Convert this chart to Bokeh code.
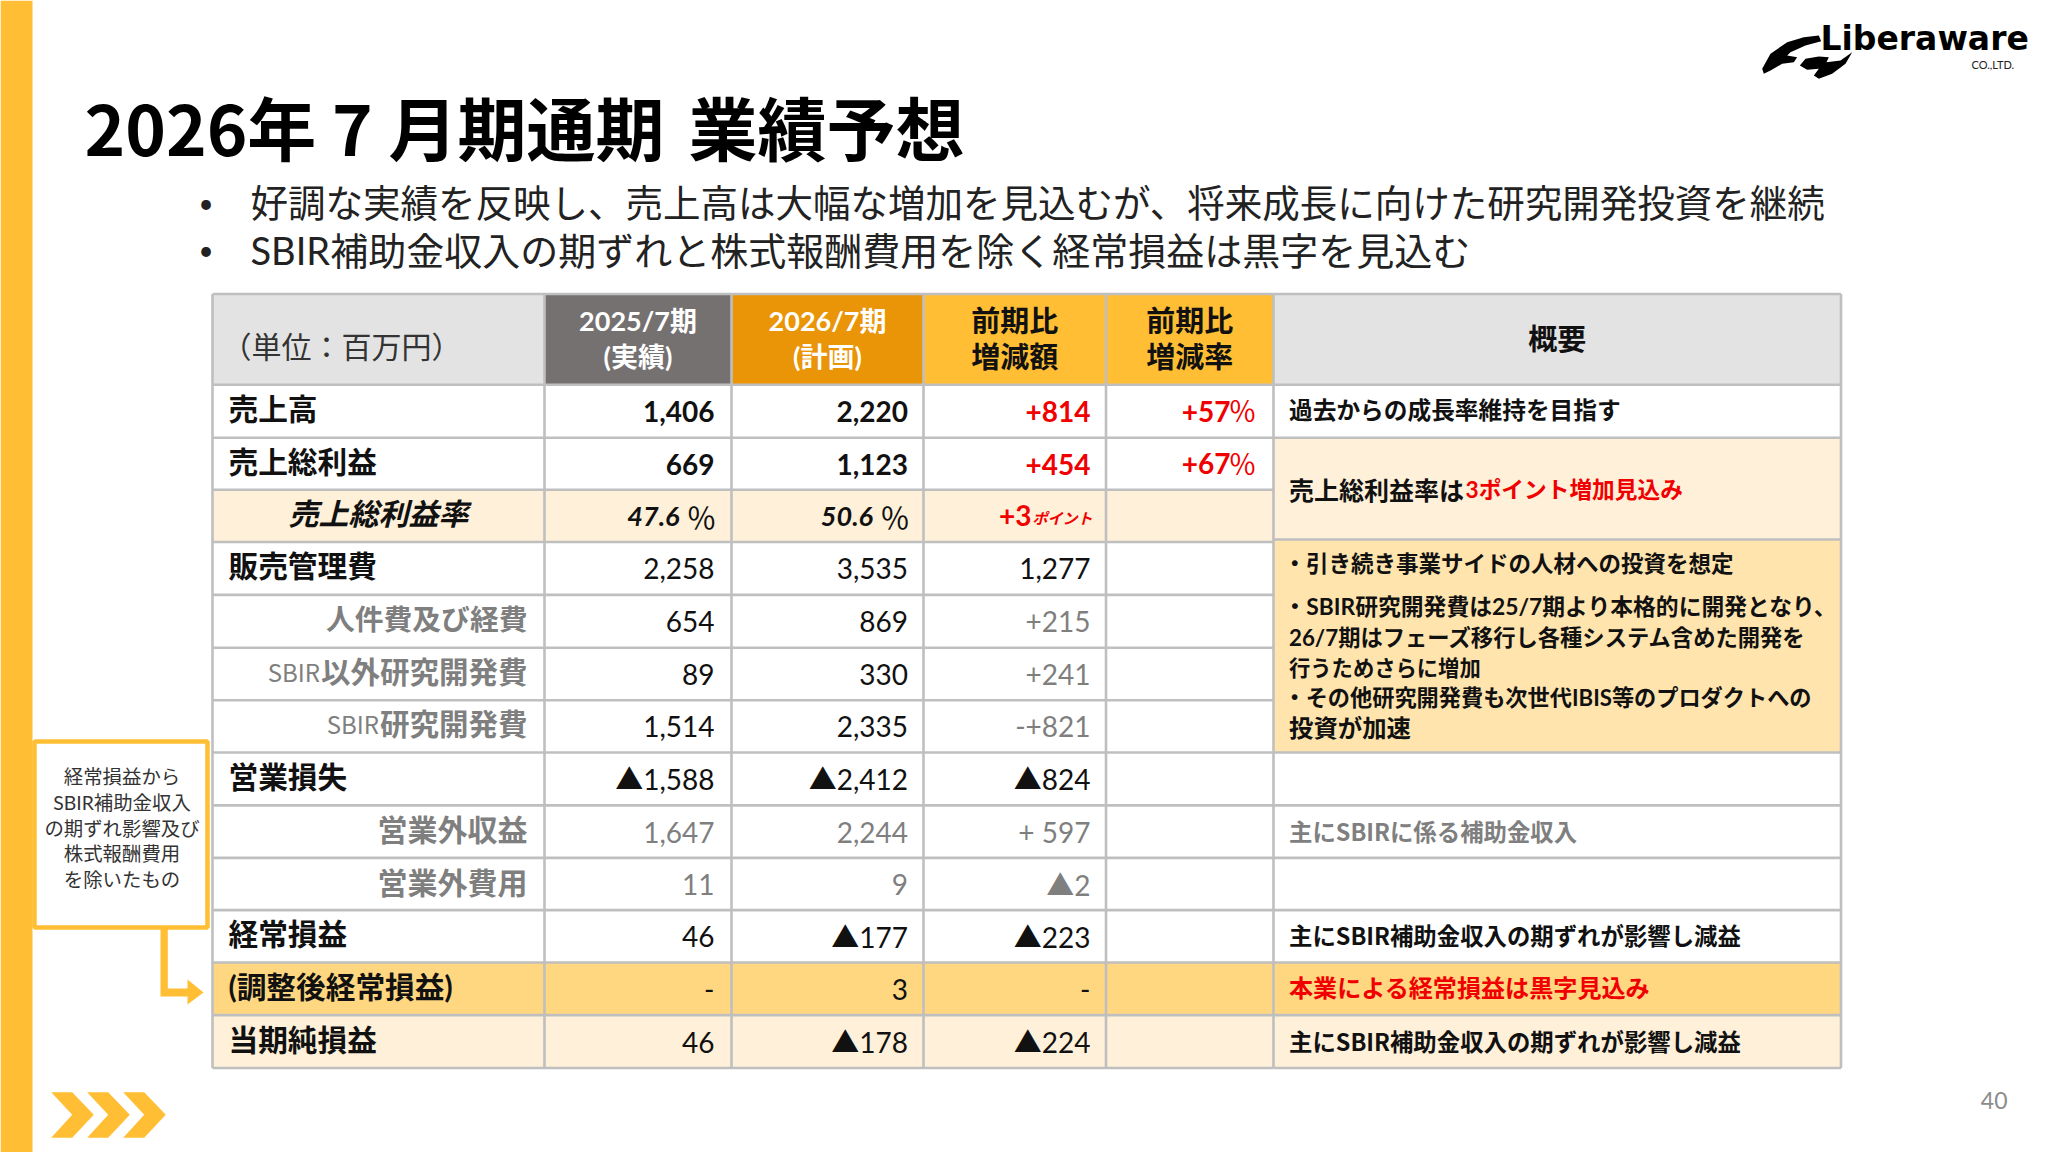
from bokeh.plotting import figure
from bokeh.models import Range1d
from bokeh.core.properties import value
from bokeh.embed import file_html
from bokeh.resources import INLINE

# ---------- DATA ----------
title_parts = ["2026年 7 月期通期", "業績予想"]
bullets = ["好調な実績を反映し、売上高は大幅な増加を見込むが、将来成長に向けた研究開発投資を継続",
           "SBIR補助金収入の期ずれと株式報酬費用を除く経常損益は黒字を見込む"]
unit_label = "（単位：百万円）"
headers = ["2025/7期\n(実績)", "2026/7期\n(計画)", "前期比\n増減額", "前期比\n増減率"]
summary_header = "概要"
row_labels = ["売上高", "売上総利益", "売上総利益率", "販売管理費", "人件費及び経費", "SBIR以外研究開発費",
              "SBIR研究開発費", "営業損失", "営業外収益", "営業外費用", "経常損益", "(調整後経常損益)", "当期純損益"]
fy2025 = ["1,406", "669", "47.6", "2,258", "654", "89", "1,514", "▲1,588", "1,647", "11", "46", "-", "46"]
fy2026 = ["2,220", "1,123", "50.6", "3,535", "869", "330", "2,335", "▲2,412", "2,244", "9", "▲177", "3", "▲178"]
diff_amount = ["+814", "+454", "+3", "1,277", "+215", "+241", "-+821", "▲824", "+ 597", "▲2", "▲223", "-", "▲224"]
diff_rate = ["+57", "+67", "", "", "", "", "", "", "", "", "", "", ""]
point_unit = "ポイント"
summary_single = {0: "過去からの成長率維持を目指す", 8: "主にSBIRに係る補助金収入", 10: "主にSBIR補助金収入の期ずれが影響し減益",
                  11: "本業による経常損益は黒字見込み", 12: "主にSBIR補助金収入の期ずれが影響し減益"}
margin_note = ["売上総利益率は", "3ポイント増加見込み"]
cost_note = ["・引き続き事業サイドの人材への投資を想定", "・SBIR研究開発費は25/7期より本格的に開発となり、",
             "26/7期はフェーズ移行し各種システム含めた開発を", "行うためさらに増加",
             "・その他研究開発費も次世代IBIS等のプロダクトへの", "投資が加速"]
callout = ["経常損益から", "SBIR補助金収入", "の期ずれ影響及び", "株式報酬費用", "を除いたもの"]
logo_name = "Liberaware"
logo_sub = "CO.,LTD."
page_no = "40"

# ---------- LAYOUT / STYLE ----------
COL = [212, 544, 731, 923, 1105.5, 1273, 1840.5]
ROW = [293.5, 384.3, 437.2, 489.3, 541.5, 594.4, 647.3, 699.8, 752, 804.9, 857.4, 909.6, 962, 1014.6, 1067.5]
SUM_ROW = [293.5, 384.3, 437.2, 539, 752, 804.9, 857.4, 909.6, 962, 1014.6, 1067.5]
YEL, ORG, GRY_H, LGT, MID, STR = "#FFBE33", "#EA9508", "#767171", "#FFF0D9", "#FFE4AE", "#FFD780"
HDR = "#E3E3E3"; LINE = "#BFBFBF"; GRAY = "#7F7F7F"; RED = "#F00000"; INK = "#111111"
CJK = "Noto Sans CJK JP"
MIX = "Lato, 'Noto Sans CJK JP'"
NARROW = "'Liberation Sans Narrow', 'Noto Sans CJK JP'"

p = figure(width=2048, height=1152, output_backend="svg", toolbar_location=None,
           x_range=Range1d(0, 2048), y_range=Range1d(1152, 0), min_border=0,
           outline_line_color=None, background_fill_color="white")
p.axis.visible = False
p.grid.visible = False


def T(x, y, s, size, color=INK, style="normal", align="left", font=MIX):
    p.text(x=[x], y=[y], text=[s], text_font=value(font), text_font_size=f"{size}px", text_color=color,
           text_font_style=style, text_align=align, text_baseline="middle")


def R(l, r, t, b, c):
    p.quad(left=[l], right=[r], top=[t], bottom=[b], fill_color=c, line_color=None)


# sidebar, chevrons
R(0, 32, 0, 1152, YEL)
chev_x = [50.7, 71.7, 93.3, 71.7, 50.7, 71.7]
chev_y = [1091.7, 1091.7, 1114.3, 1137.3, 1137.3, 1114.3]
p.patches(xs=[[v + o for v in chev_x] for o in (0, 36, 72)], ys=[chev_y] * 3, fill_color=YEL, line_color=None)

# title, bullets
T(84, 125, title_parts[0], 69, "#000000", "bold", font=CJK)
T(688, 125, title_parts[1], 69, "#000000", "bold", font=CJK)
for yy, s, sz in zip((202, 249), bullets, (37.5, 38)):
    T(198, yy, "•", 26, "#222222")
    T(250, yy, s, sz, "#222222", font=MIX)

# header fills
R(COL[0], COL[1], ROW[0], ROW[1], HDR)
R(COL[1], COL[2], ROW[0], ROW[1], GRY_H)
R(COL[2], COL[3], ROW[0], ROW[1], ORG)
R(COL[3], COL[5], ROW[0], ROW[1], YEL)
R(COL[5], COL[6], ROW[0], ROW[1], HDR)
# body fills
R(COL[0], COL[5], ROW[3], ROW[4], LGT)
R(COL[0], COL[6], ROW[12], ROW[13], STR)
R(COL[0], COL[6], ROW[13], ROW[14], LGT)
R(COL[5], COL[6], SUM_ROW[2], SUM_ROW[3], LGT)
R(COL[5], COL[6], SUM_ROW[3], SUM_ROW[4], MID)

# grid lines
xs, ys = [], []
for y in ROW:
    xs.append([COL[0], COL[5]]); ys.append([y, y])
for y in SUM_ROW:
    xs.append([COL[5], COL[6]]); ys.append([y, y])
for x in COL:
    xs.append([x, x]); ys.append([ROW[0], ROW[-1]])
p.multi_line(xs=xs, ys=ys, line_color=LINE, line_width=2.6)

# header text
T(221, 344, unit_label, 30, "#333333", font=CJK)
for i, h in enumerate(headers):
    cx = (COL[i + 1] + COL[i + 2]) / 2
    l1, l2 = h.split("\n")
    c = "white" if i < 2 else INK
    sz = 27 if i < 2 else 29
    T(cx, 320, l1, sz, c, "bold", "center")
    T(cx, 356, l2, sz, c, "bold", "center")
T((COL[5] + COL[6]) / 2, 336, summary_header, 29, INK, "bold", "center", font=CJK)

# row labels
mid = [(ROW[i + 1] + ROW[i + 2]) / 2 for i in range(13)]
for i, s in enumerate(row_labels):
    y = mid[i] - 2.5
    if i == 2:
        T(378, y, s, 30, INK, "bold italic", "center")
    elif s.startswith("SBIR"):
        rest = s[4:]
        T(527, y, rest, 29.5, GRAY, "bold", "right")
        T(527 - 29.5 * len(rest) - 1, y, "SBIR", 24, GRAY, "normal", "right", font=NARROW)
    elif i == 4:
        T(527, y, s, 28.8, GRAY, "bold", "right")
    elif i in (8, 9):
        T(527, y, s, 30, GRAY, "bold", "right")
    else:
        T(228, y, s, 29.7, INK, "bold", "left")

# values
right = [COL[2] - 17, COL[3] - 15.5, COL[4] - 15.5]
for i in range(13):
    for j, arr in enumerate((fy2025, fy2026, diff_amount)):
        s = arr[i]
        if not s:
            continue
        color = INK
        st = "normal"
        if i in (0, 1):
            st = "bold"
        if i == 2:
            st = "bold italic"
        if j == 2 and i < 3:
            color, st = RED, "bold"
        if j == 2 and i in (4, 5, 6, 8, 9):
            color = GRAY
        if j < 2 and i in (8, 9):
            color = GRAY
        x = right[j]
        if i == 2 and j < 2:
            T(x - 35, mid[i] + 1, s, 27, color, st, "right")
            T(x + 2, mid[i], "％", 30, INK, "normal", "right", font=CJK)
        elif i == 2:
            T(1031, mid[i], s, 28, color, "bold", "right")
            T(1032, mid[i] + 2, point_unit, 15, color, "bold italic", "left", font=CJK)
        else:
            T(x, mid[i] + 0.5, s, 28, color, st, "right")
    if diff_rate[i]:
        T(1230, mid[i], diff_rate[i], 28, RED, "bold", "right")
        T(1256, mid[i] - 1, "％", 28, RED, "normal", "right", font=CJK)

# summary
for i, s in summary_single.items():
    c = GRAY if i == 8 else (RED if i == 11 else INK)
    sz = 24.1 if i == 11 else (23.7 if i == 0 else 23.4)
    T(1288.5, mid[i] - 1, s, sz, c, "bold", font=NARROW if "SBIR" in s else MIX)
T(1288.5, 489, margin_note[0], 25, INK, "bold")
T(1465, 489, margin_note[1], 22.7, RED, "bold")
for yy, s, sz, xx in zip((563, 605.5, 636.5, 667, 697, 727), cost_note,
                         (22.5, 22.8, 22.3, 21.3, 22.2, 24.4),
                         (1283, 1283, 1288.5, 1288.5, 1283, 1288.5)):
    T(xx, yy, s, sz, INK, "bold")

# callout + arrow
p.quad(left=[34], right=[207], top=[741], bottom=[927], fill_color="white", line_color=YEL, line_width=4.5)
for yy, s in zip((776, 802, 828, 853, 879), callout):
    T(121.5, yy, s, 19.4, "#333333", "normal", "center")
p.patch(x=[160, 167.3, 167.3, 187, 187, 203, 187, 187, 160],
        y=[927, 927, 988, 988, 979, 992, 1004, 996, 996], fill_color=YEL, line_color=None)

# logo
sw1 = [(35, 175), (60, 130), (110, 95), (160, 80), (205, 75), (212, 92), (165, 105), (120, 125), (110, 135),
       (140, 140), (130, 155), (95, 160), (60, 180), (40, 190)]
sw2 = [(148, 165), (165, 145), (205, 138), (235, 140), (228, 155), (270, 150), (305, 125), (285, 160),
       (245, 190), (205, 205), (190, 195), (205, 175), (170, 178)]
p.patches(xs=[[1750 + a / 3 for a, _ in s] for s in (sw1, sw2)],
          ys=[[10 + b / 3 for _, b in s] for s in (sw1, sw2)], fill_color="#000000", line_color=None)
T(1820, 38, logo_name, 33, "#000000", "bold", font="DejaVu Sans")
T(1971, 64, logo_sub, 11, "#222222")

# page number
T(2007, 1099.5, page_no, 23, "#8c8c8c", "normal", "right")

open("out.html", "w").write(file_html(p, INLINE))
